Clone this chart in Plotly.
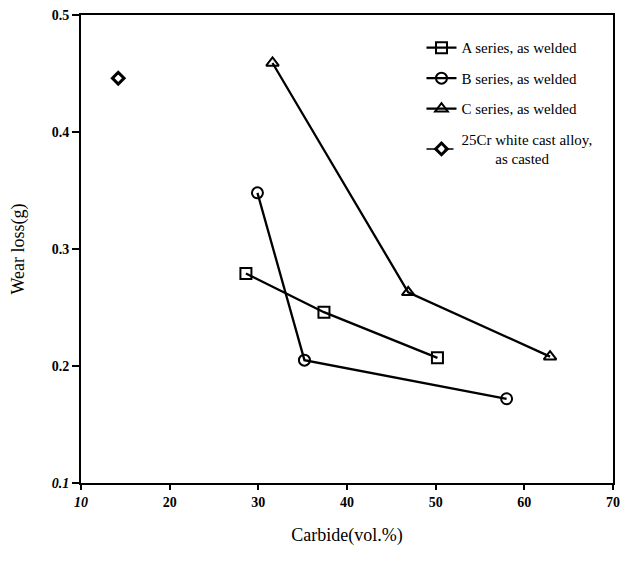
import plotly.graph_objects as go

# Data
a_x = [28.6, 37.4, 50.2]
a_y = [0.279, 0.246, 0.207]
b_x = [29.9, 35.2, 58.0]
b_y = [0.348, 0.205, 0.172]
c_x = [31.6, 46.9, 62.9]
c_y = [0.459, 0.263, 0.208]
cr_x = [14.2]
cr_y = [0.446]

names = ["A series, as welded", "B series, as welded", "C series, as welded",
         "25Cr white cast alloy,<br>         as casted"]
x_ticks = [10, 20, 30, 40, 50, 60, 70]
y_ticks = [0.1, 0.2, 0.3, 0.4, 0.5]
y_ticktext = ["<i>0.1</i>", "0.2", "0.3", "0.4", "0.5"]
x_ticktext = ["<i>10</i>", "20", "30", "40", "50", "60", "70"]

SERIF = "Liberation Serif"
fig = go.Figure()
line = dict(color="black", width=2.3)
fig.add_trace(go.Scatter(x=a_x, y=a_y, mode="lines+markers", name=names[0], legendgroup="a",
                         line=line,
                         marker=dict(symbol="square-open", size=11, color="black", line=dict(width=2))))
fig.add_trace(go.Scatter(x=b_x, y=b_y, mode="lines+markers", name=names[1], legendgroup="b",
                         line=line,
                         marker=dict(symbol="circle-open", size=11, color="black", line=dict(width=2))))
fig.add_trace(go.Scatter(x=c_x, y=c_y, mode="lines+markers", name=names[2], legendgroup="c",
                         line=line,
                         marker=dict(symbol="triangle-up-open", size=11, color="black", line=dict(width=2))))
fig.add_trace(go.Scatter(x=cr_x, y=cr_y, mode="lines+markers", name=names[3], legendgroup="d",
                         line=dict(color="black", width=1.5, dash="dash"),
                         marker=dict(symbol="diamond-open", size=9, color="black", line=dict(width=3))))

fig.update_layout(
    width=625, height=561,
    margin=dict(l=81, r=5, t=15, b=78),
    paper_bgcolor="white", plot_bgcolor="white",
    font=dict(family=SERIF, color="black", size=14),
    showlegend=True,
    legend=dict(x=0.64, y=0.965, xanchor="left", yanchor="top",
                font=dict(family=SERIF, size=15, color="black"),
                bgcolor="rgba(0,0,0,0)", tracegroupgap=8),
    xaxis=dict(range=[10, 70], tickvals=x_ticks, ticktext=x_ticktext,
               showgrid=False, zeroline=False,
               showline=True, linecolor="black", linewidth=2, mirror=True,
               ticks="outside", ticklen=5, tickwidth=2, tickcolor="black",
               tickfont=dict(family=SERIF, size=14, color="black", weight="bold"),
               title=dict(text="Carbide(vol.%)", font=dict(family=SERIF, size=18), standoff=20)),
    yaxis=dict(range=[0.1, 0.5], tickvals=y_ticks, ticktext=y_ticktext,
               showgrid=False, zeroline=False,
               showline=True, linecolor="black", linewidth=2, mirror=True,
               ticks="outside", ticklen=7, tickwidth=2, tickcolor="black",
               tickfont=dict(family=SERIF, size=14, color="black", weight="bold"),
               title=dict(text="Wear loss(g)", font=dict(family=SERIF, size=18), standoff=22)),
)

fig.write_html("out.html")
